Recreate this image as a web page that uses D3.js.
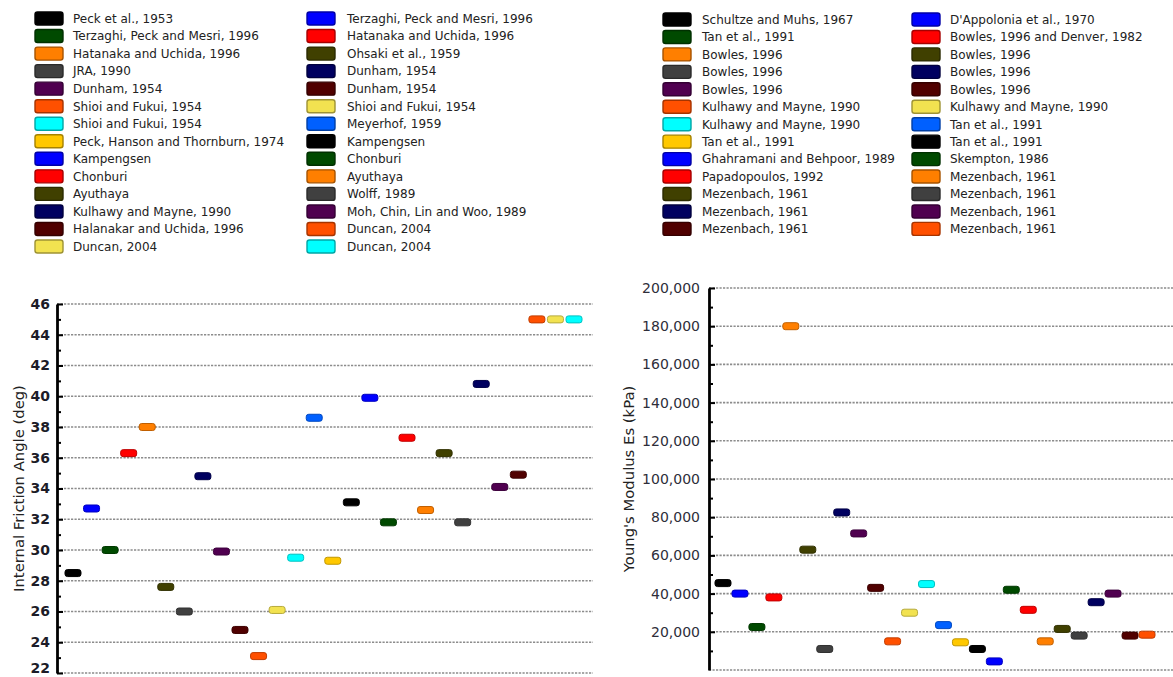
<!DOCTYPE html>
<html>
<head>
<meta charset="utf-8">
<script src="https://cdn.jsdelivr.net/npm/d3@7"></script>
<style>
  html, body { margin: 0; padding: 0; background: #fff; }
  svg { display: block; }
  text { font-family: "DejaVu Sans", "Liberation Sans", Arial, sans-serif; }
</style>
</head>
<body>
<svg id="chart" width="1173" height="677"></svg>
<script>
// ---- Internal friction angle (deg), one entry per reference source ----
const frictionSources = [
  "Peck et al., 1953", "Terzaghi, Peck and Mesri, 1996",
  "Terzaghi, Peck and Mesri, 1996", "Hatanaka and Uchida, 1996",
  "Hatanaka and Uchida, 1996", "Ohsaki et al., 1959",
  "JRA, 1990", "Dunham, 1954",
  "Dunham, 1954", "Dunham, 1954",
  "Shioi and Fukui, 1954", "Shioi and Fukui, 1954",
  "Shioi and Fukui, 1954", "Meyerhof, 1959",
  "Peck, Hanson and Thornburn, 1974", "Kampengsen",
  "Kampengsen", "Chonburi",
  "Chonburi", "Ayuthaya",
  "Ayuthaya", "Wolff, 1989",
  "Kulhawy and Mayne, 1990", "Moh, Chin, Lin and Woo, 1989",
  "Halanakar and Uchida, 1996", "Duncan, 2004",
  "Duncan, 2004", "Duncan, 2004"
];
const frictionValues = [
  28.5, 32.7, 30.0, 36.3, 38.0, 27.6, 26.0, 34.8, 29.9, 24.8,
  23.1, 26.1, 29.5, 38.6, 29.3, 33.1, 39.9, 31.8, 37.3, 32.6,
  36.3, 31.8, 40.8, 34.1, 34.9, 45.0, 45.0, 45.0
];
const frictionTicks = [22, 24, 26, 28, 30, 32, 34, 36, 38, 40, 42, 44, 46];

// ---- Young's modulus Es (kPa) ----
const modulusSources = [
  "Schultze and Muhs, 1967", "D'Appolonia et al., 1970",
  "Tan et al., 1991", "Bowles, 1996 and Denver, 1982",
  "Bowles, 1996", "Bowles, 1996",
  "Bowles, 1996", "Bowles, 1996",
  "Bowles, 1996", "Bowles, 1996",
  "Kulhawy and Mayne, 1990", "Kulhawy and Mayne, 1990",
  "Kulhawy and Mayne, 1990", "Tan et al., 1991",
  "Tan et al., 1991", "Tan et al., 1991",
  "Ghahramani and Behpoor, 1989", "Skempton, 1986",
  "Papadopoulos, 1992", "Mezenbach, 1961",
  "Mezenbach, 1961", "Mezenbach, 1961",
  "Mezenbach, 1961", "Mezenbach, 1961",
  "Mezenbach, 1961", "Mezenbach, 1961"
];
const modulusValues = [
  45500, 40000, 22500, 38000, 180000, 63000, 11000, 82500, 71500, 43000,
  15000, 30000, 45000, 23500, 14500, 11000, 4500, 42000, 31500, 15000,
  21500, 18000, 35500, 40000, 18000, 18500
];
const modulusTicks = [0, 20000, 40000, 60000, 80000, 100000, 120000, 140000, 160000, 180000, 200000];

// Series colour cycle shared by both panels
const palette = [
  "#000000", "#0000ff", "#004a00", "#ff0000", "#ff7f00",
  "#404000", "#404040", "#000060", "#500050", "#500000",
  "#ff5000", "#f2e250", "#00ffff", "#0060ff", "#ffc800"
];

const svg = d3.select("#chart");
svg.append("rect").attr("width", 1173).attr("height", 677).attr("fill", "#fff");

// Two-column legend, filled row by row
function drawLegend(names, cfg) {
  const g = svg.append("g");
  names.forEach((name, i) => {
    const col = i % 2, row = Math.floor(i / 2);
    const cy = cfg.y0 + row * cfg.dy;
    const fill = palette[i % palette.length];
    g.append("rect")
      .attr("x", cfg.swatchX[col]).attr("y", cy - 6.5)
      .attr("width", 28).attr("height", 13).attr("rx", 2.5)
      .attr("fill", fill)
      .attr("stroke", d3.color(fill).darker(1.2).formatHex())
      .attr("stroke-width", 1.4);
    g.append("text")
      .attr("x", cfg.textX[col]).attr("y", cy + 4.3)
      .attr("font-size", 12).attr("fill", "#222")
      .text(name);
  });
}

drawLegend(frictionSources, { y0: 18.5, dy: 17.54, swatchX: [35, 307], textX: [73, 347] });
drawLegend(modulusSources, { y0: 19.5, dy: 17.45, swatchX: [663, 912], textX: [702, 950] });

// Scatter panel with short bar markers
function drawPanel(values, cfg) {
  const x = d3.scalePoint()
    .domain(d3.range(values.length))
    .range([cfg.left, cfg.right])
    .padding(cfg.padding);
  const y = d3.scaleLinear().domain(cfg.domain).range([cfg.bottom, cfg.top]);
  const g = svg.append("g");

  // dotted horizontal grid
  g.append("g").selectAll("line").data(cfg.ticks).join("line")
    .attr("x1", cfg.left).attr("x2", cfg.gridEnd)
    .attr("y1", d => y(d)).attr("y2", d => y(d))
    .attr("stroke", "#8c8c8c").attr("stroke-width", 1.6)
    .attr("stroke-dasharray", "2.2,1.3");

  // minor ticks (inside)
  g.append("g")
    .attr("transform", `translate(${cfg.left},0)`)
    .call(d3.axisLeft(y).tickValues(cfg.minorTicks).tickSizeInner(-4).tickSizeOuter(0).tickFormat(""))
    .call(a => a.select(".domain").remove())
    .call(a => a.selectAll("line").attr("stroke", "#000").attr("stroke-width", 2));

  // main axis with labels
  const axis = g.append("g")
    .attr("transform", `translate(${cfg.left},0)`)
    .call(d3.axisLeft(y).tickValues(cfg.labelTicks).tickSizeInner(-6).tickSizeOuter(0)
      .tickPadding(cfg.tickPad).tickFormat(cfg.format));
  axis.select(".domain").attr("stroke", "#000").attr("stroke-width", 2.8);
  axis.selectAll(".tick line").attr("stroke", "#000").attr("stroke-width", 2);
  axis.selectAll(".tick text")
    .attr("font-family", '"DejaVu Sans", sans-serif')
    .attr("font-size", 14)
    .attr("font-weight", cfg.bold ? "bold" : "normal")
    .attr("fill", cfg.labelColor)
    // keep the lowest label inside the page edge
    .attr("dy", d => (y(d) > 668 ? "-0.05em" : "0.32em"));

  // axis title
  svg.append("text")
    .attr("transform", `translate(${cfg.titleX},${(cfg.top + cfg.bottom) / 2}) rotate(-90)`)
    .attr("text-anchor", "middle").attr("dominant-baseline", "central")
    .attr("font-size", 14.8).attr("fill", "#222")
    .text(cfg.title);

  // markers
  g.append("g").selectAll("rect").data(values).join("rect")
    .attr("x", (d, i) => x(i) - cfg.mw / 2)
    .attr("y", d => y(d) - cfg.mh / 2)
    .attr("width", cfg.mw).attr("height", cfg.mh).attr("rx", 2.5)
    .attr("fill", (d, i) => palette[i % palette.length])
    .attr("stroke", (d, i) => d3.color(palette[i % palette.length]).darker(0.8).formatHex())
    .attr("stroke-width", 1);
}

drawPanel(frictionValues, {
  left: 57, right: 590, gridEnd: 593, padding: 0.862,
  top: 304, bottom: 673, domain: [22, 46],
  ticks: frictionTicks, labelTicks: frictionTicks,
  minorTicks: d3.range(23, 46, 2),
  tickPad: 7, format: d3.format("d"), bold: true, labelColor: "#1c1c28",
  titleX: 18, title: "Internal Friction Angle (deg)",
  mw: 16, mh: 7
});

drawPanel(modulusValues, {
  left: 709, right: 1161, gridEnd: 1173, padding: 0.825,
  top: 288, bottom: 670, domain: [0, 200000],
  ticks: modulusTicks, labelTicks: modulusTicks.slice(1),
  minorTicks: d3.range(10000, 200000, 20000),
  tickPad: 9, format: d3.format(","), bold: false, labelColor: "#2e2e3a",
  titleX: 628, title: "Young's Modulus Es (kPa)",
  mw: 16, mh: 7
});
</script>
</body>
</html>
